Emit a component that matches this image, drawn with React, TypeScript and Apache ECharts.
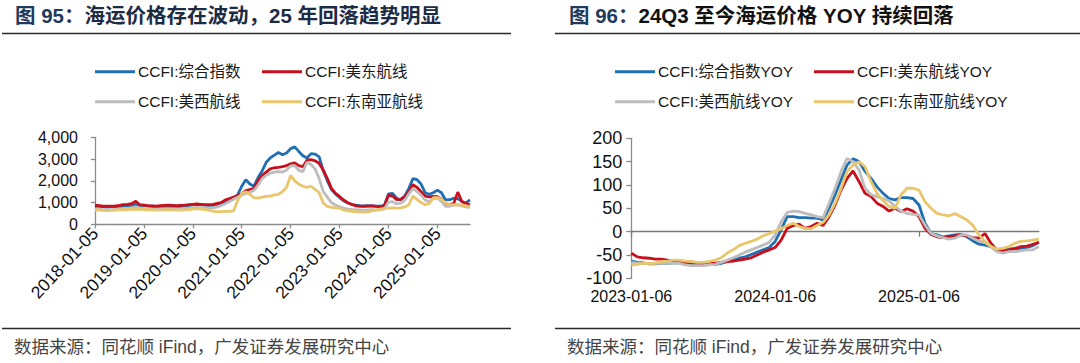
import React, { useEffect, useRef } from 'react';
import * as echarts from 'echarts';

// ---------- names / colours ----------
const leftNames = ['CCFI:综合指数', 'CCFI:美东航线', 'CCFI:美西航线', 'CCFI:东南亚航线'];
const rightNames = ['CCFI:综合指数YOY', 'CCFI:美东航线YOY', 'CCFI:美西航线YOY', 'CCFI:东南亚航线YOY'];
const lineColors = ['#1f6fb2', '#c80f1c', '#bdbdbd', '#e9c66b'];

// ---------- left chart: monthly CCFI levels, 2018-01 .. 2025-09 ----------
const ccfiComposite = [
  820, 830, 800, 790, 800, 810, 820, 840, 850, 870, 920, 860,
  860, 840, 830, 820, 820, 830, 840, 830, 820, 830, 840, 860,
  900, 920, 890, 880, 870, 870, 890, 930, 1000, 1100, 1200, 1350,
  1750, 2050, 1850, 1750, 2150, 2450, 2850, 3050, 3180, 3300, 3200, 3280,
  3480, 3560, 3350, 3150, 3050, 3250, 3230, 3100, 2450, 2000, 1600, 1400,
  1230, 1080, 980, 920, 880, 860, 850, 860, 850, 840, 830, 880,
  1400, 1420, 1200, 1120, 1300, 1650, 2100, 2050, 1850, 1450, 1380, 1450,
  1570, 1450, 1120, 1130, 1200, 1180, 1050, 980, 1120,
];
const ccfiUSEast = [
  880, 860, 830, 830, 840, 850, 870, 900, 920, 950, 1060, 900,
  880, 860, 850, 840, 860, 870, 880, 870, 860, 870, 880, 900,
  920, 940, 920, 900, 900, 920, 960, 1000, 1120, 1180, 1250, 1320,
  1400, 1550, 1600, 1650, 2000, 2250, 2400, 2550, 2600, 2620, 2650, 2700,
  2780, 2820, 2700, 2650, 2950, 2970, 2920, 2800, 2500, 2100, 1650, 1420,
  1280, 1120, 990, 910, 850, 820, 830, 840, 850, 820, 800, 850,
  1330, 1300, 1130, 1150, 1270, 1500, 1820, 1700, 1500, 1300, 1260, 1280,
  1270, 1150, 900, 920, 950, 1480, 1050, 960, 900,
];
const ccfiUSWest = [
  680, 700, 660, 650, 660, 680, 700, 720, 730, 750, 800, 750,
  720, 700, 680, 680, 690, 700, 710, 700, 690, 700, 720, 740,
  760, 780, 760, 740, 740, 760, 800, 860, 950, 1050, 1150, 1250,
  1350, 1420, 1480, 1560, 1800, 2100, 2250, 2350, 2400, 2420, 2400, 2500,
  2680, 2700, 2480, 2420, 2850, 2750, 2550, 2100, 1500, 1250, 1000, 880,
  800, 740, 700, 680, 670, 660, 650, 660, 670, 650, 660, 700,
  1020, 1040, 950, 960, 1100, 1400, 1650, 1500, 1340, 1110, 1040, 1180,
  1200, 1050, 820, 830, 880, 900, 850, 800, 780,
];
const ccfiSEAsia = [
  650, 660, 640, 630, 640, 650, 660, 670, 680, 690, 700, 690,
  680, 670, 660, 650, 650, 660, 670, 660, 650, 650, 660, 680,
  700, 720, 700, 680, 640, 600, 580, 580, 590, 600, 620, 1100,
  1420, 1500, 1380, 1220, 1200, 1250, 1280, 1300, 1350, 1380, 1500, 1700,
  2250, 2000, 1850, 1750, 1700, 1750, 1600, 1450, 980, 820, 780, 760,
  740, 660, 620, 600, 580, 560, 560, 570, 620, 660, 700, 730,
  740, 750, 740, 760, 800, 900, 1300, 1150, 1000, 900, 950, 1220,
  1230, 1150, 980, 920, 890, 900, 880, 850, 820,
];

// ---------- right chart: semi-monthly YOY (%), 2023-01-06 .. 2025-11-06 ----------
const yoyComposite = [
  -63, -66, -67, -69, -69, -68, -68, -67, -67, -68, -69, -70, -71, -70, -70,
  -68, -64, -61, -57, -54, -49, -44, -39, -34, -21,
  4, 32, 32, 30, 30, 29, 29, 25, 50, 79,
  111, 143, 156, 150, 129, 114, 96, 82, 71, 68,
  73, 73, 71, 57, 18, -4, -7, -11, -9, -7,
  -6, -11, -20, -27, -29, -32, -41, -39, -37, -37,
  -36, -34, -30, -23,
];
const yoyUSEast = [
  -46, -54, -56, -57, -59, -59, -61, -63, -63, -66, -67, -68, -69, -68, -68,
  -66, -64, -63, -61, -59, -56, -50, -44, -39, -34,
  -18, 7, 13, 16, 7, 11, 18, 13, 32, 57,
  89, 114, 130, 107, 82, 75, 61, 54, 44, 50,
  43, 49, 44, 32, 7, -6, -11, -13, -11, -9,
  -7, -9, -13, -14, -4, -25, -39, -41, -39, -36,
  -32, -31, -27, -23,
];
const yoyUSWest = [
  -66, -68, -68, -68, -68, -68, -68, -68, -68, -71, -73, -73, -73, -71, -70,
  -66, -61, -56, -50, -44, -39, -34, -29, -23, -7,
  21, 41, 44, 43, 39, 36, 32, 30, 61, 93,
  129, 157, 150, 132, 93, 79, 75, 71, 66, 54,
  44, 39, 37, 36, 14, -4, -9, -13, -16, -14,
  -7, -7, -14, -20, -23, -32, -43, -46, -43, -43,
  -41, -39, -39, -32,
];
const yoySEAsia = [
  -71, -70, -68, -68, -68, -64, -63, -61, -61, -63, -64, -66, -66, -64, -61,
  -56, -46, -39, -30, -25, -21, -16, -9, -4, 1,
  6, 13, 18, 11, 7, 6, 13, 20, 36, 61,
  93, 129, 143, 150, 139, 107, 82, 66, 54, 50,
  79, 93, 93, 89, 64, 50, 39, 36, 34, 39,
  32, 25, 13, -7, -21, -32, -37, -36, -32, -25,
  -21, -20, -18, -16,
];

// ---------- axis ticks ----------
const leftYTicks = { min: 0, max: 4000, interval: 1000 };
const rightYTicks = { min: -100, max: 200, interval: 50 };

const pad = (n: number) => (n < 10 ? '0' + n : '' + n);
// category dates (monthly on the 5th / semi-monthly on the 6th & 21st)
function monthlyDates(y0: number, count: number): string[] {
  const out: string[] = [];
  for (let i = 0; i < count; i++) {
    const y = y0 + Math.floor(i / 12);
    const m = (i % 12) + 1;
    out.push(`${y}-${pad(m)}-05`);
  }
  return out;
}
function semiMonthlyDates(y0: number, count: number): string[] {
  const out: string[] = [];
  for (let i = 0; i < count; i++) {
    const mi = Math.floor(i / 2);
    const y = y0 + Math.floor(mi / 12);
    const m = (mi % 12) + 1;
    out.push(`${y}-${pad(m)}-${i % 2 === 0 ? '06' : '21'}`);
  }
  return out;
}
const leftDates = monthlyDates(2018, ccfiComposite.length);
const rightDates = semiMonthlyDates(2023, yoyComposite.length);

const FONT = '"Liberation Sans", Arial, "Noto Sans CJK SC", sans-serif';
const AXIS_COLOR = '#8a8a8a';
const LABEL_COLOR = '#111111';

export default function App() {
  const ref = useRef<HTMLDivElement>(null);
  useEffect(() => {
    if (!ref.current) return;
    const chart = echarts.init(ref.current, undefined, { renderer: 'svg' });

    const leftData = [ccfiComposite, ccfiUSEast, ccfiUSWest, ccfiSEAsia];
    const rightData = [yoyComposite, yoyUSEast, yoyUSWest, yoySEAsia];

    const legendPos = (names: string[], cols: number[], rows: number[]) =>
      names.map((n, i) => ({
        data: [n],
        left: cols[i % 2],
        top: rows[Math.floor(i / 2)],
        padding: 0,
        icon: 'rect',
        itemWidth: 40,
        itemHeight: 3,
        selectedMode: false,
        textStyle: { fontSize: 15.5, color: '#1a1a1a', fontFamily: FONT, padding: [0, 0, 0, -2] },
      }));

    const option: any = {
      animation: false,
      backgroundColor: '#ffffff',
      legend: [
        ...legendPos(leftNames, [95, 262], [64, 94]),
        ...legendPos(rightNames, [615, 814], [64, 94]),
      ],
      grid: [
        { left: 95, top: 137.3, width: 375, height: 87, outerBoundsMode: 'none', containLabel: false },
        { left: 631.3, top: 138.3, width: 407.6, height: 140, outerBoundsMode: 'none', containLabel: false },
      ],
      xAxis: [
        {
          gridIndex: 0,
          type: 'category',
          data: leftDates,
          boundaryGap: false,
          axisLine: { show: true, onZero: false, lineStyle: { color: AXIS_COLOR, width: 1.3 } },
          axisTick: { show: true, interval: 11, length: 4, lineStyle: { color: AXIS_COLOR, width: 1.3 } },
          axisLabel: { interval: 11, rotate: 47, fontSize: 17.5, color: LABEL_COLOR, margin: 6, fontFamily: FONT },
          splitLine: { show: false },
        },
        {
          gridIndex: 1,
          type: 'category',
          data: rightDates,
          boundaryGap: false,
          position: 'bottom',
          axisLine: { show: false, onZero: false },
          axisTick: { show: false },
          axisLabel: { interval: 23, fontSize: 16, color: LABEL_COLOR, margin: 10, fontFamily: FONT },
          splitLine: { show: false },
        },
        {
          gridIndex: 1,
          type: 'category',
          data: rightDates,
          boundaryGap: false,
          position: 'bottom',
          axisLine: { show: true, onZero: true, lineStyle: { color: '#7a7a7a', width: 1.3 } },
          axisTick: { show: true, interval: 23, length: 5, lineStyle: { color: '#7a7a7a', width: 1.3 } },
          axisLabel: { show: false },
          splitLine: { show: false },
        },
      ],
      yAxis: [
        {
          gridIndex: 0,
          type: 'value',
          ...leftYTicks,
          axisLine: { show: true, lineStyle: { color: AXIS_COLOR, width: 1.3 } },
          axisTick: { show: true, length: 4, lineStyle: { color: AXIS_COLOR, width: 1.3 } },
          axisLabel: {
            fontSize: 16,
            color: LABEL_COLOR,
            margin: 17,
            fontFamily: FONT,
            formatter: (v: number) => v.toLocaleString('en-US'),
          },
          splitLine: { show: false },
        },
        {
          gridIndex: 1,
          type: 'value',
          ...rightYTicks,
          axisLine: { show: true, lineStyle: { color: AXIS_COLOR, width: 1.3 } },
          axisTick: { show: true, length: 5, lineStyle: { color: AXIS_COLOR, width: 1.3 } },
          axisLabel: { fontSize: 18, color: LABEL_COLOR, margin: 9, fontFamily: FONT },
          splitLine: { show: false },
        },
      ],
      series: [
        ...leftNames.map((n, i) => ({
          name: n,
          type: 'line',
          xAxisIndex: 0,
          yAxisIndex: 0,
          data: leftData[i],
          symbol: 'none',
          showSymbol: false,
          itemStyle: { color: lineColors[i] },
          lineStyle: { color: lineColors[i], width: 2.8 },
        })),
        ...rightNames.map((n, i) => ({
          name: n,
          type: 'line',
          xAxisIndex: 1,
          yAxisIndex: 1,
          data: rightData[i],
          symbol: 'none',
          showSymbol: false,
          itemStyle: { color: lineColors[i] },
          lineStyle: { color: lineColors[i], width: 2.8 },
        })),
      ],
      graphic: [
        {
          type: 'text',
          x: 15,
          y: 15,
          style: {
            text: '{a|图 95：}{b|海运价格存在波动，25 年回落趋势明显}',
            verticalAlign: 'middle',
            rich: {
              a: { fontSize: 20.5, fontWeight: 'bold', fill: '#1f3a5c', fontFamily: FONT },
              b: { fontSize: 20.5, fontWeight: 'bold', fill: '#1c2c44', fontFamily: FONT },
            },
          },
        },
        {
          type: 'text',
          x: 569,
          y: 15,
          style: {
            text: '{a|图 96：}{b|24Q3 至今海运价格 YOY 持续回落}',
            verticalAlign: 'middle',
            rich: {
              a: { fontSize: 20.5, fontWeight: 'bold', fill: '#1f3a5c', fontFamily: FONT },
              b: { fontSize: 20.5, fontWeight: 'bold', fill: '#111111', fontFamily: FONT },
            },
          },
        },
        { type: 'line', shape: { x1: 2, y1: 33.5, x2: 511, y2: 33.5 }, style: { stroke: '#2a2a2a', lineWidth: 1.6 } },
        { type: 'line', shape: { x1: 555, y1: 33.5, x2: 1080, y2: 33.5 }, style: { stroke: '#2a2a2a', lineWidth: 1.6 } },
        { type: 'line', shape: { x1: 2, y1: 328.5, x2: 511, y2: 328.5 }, style: { stroke: '#2a2a2a', lineWidth: 1.6 } },
        { type: 'line', shape: { x1: 555, y1: 328.5, x2: 1080, y2: 328.5 }, style: { stroke: '#2a2a2a', lineWidth: 1.6 } },
        {
          type: 'text',
          x: 14,
          y: 347,
          style: {
            text: '数据来源：同花顺 iFind，广发证券发展研究中心',
            verticalAlign: 'middle',
            fontSize: 17.5,
            fill: '#444444',
            fontFamily: FONT,
          },
        },
        {
          type: 'text',
          x: 567,
          y: 347,
          style: {
            text: '数据来源：同花顺 iFind，广发证券发展研究中心',
            verticalAlign: 'middle',
            fontSize: 17.5,
            fill: '#444444',
            fontFamily: FONT,
          },
        },
      ],
    };
    chart.setOption(option);
    return () => chart.dispose();
  }, []);

  return (
    <div
      ref={ref}
      style={{ position: 'absolute', left: 0, top: 0, width: 1080, height: 363, background: '#fff' }}
    />
  );
}
